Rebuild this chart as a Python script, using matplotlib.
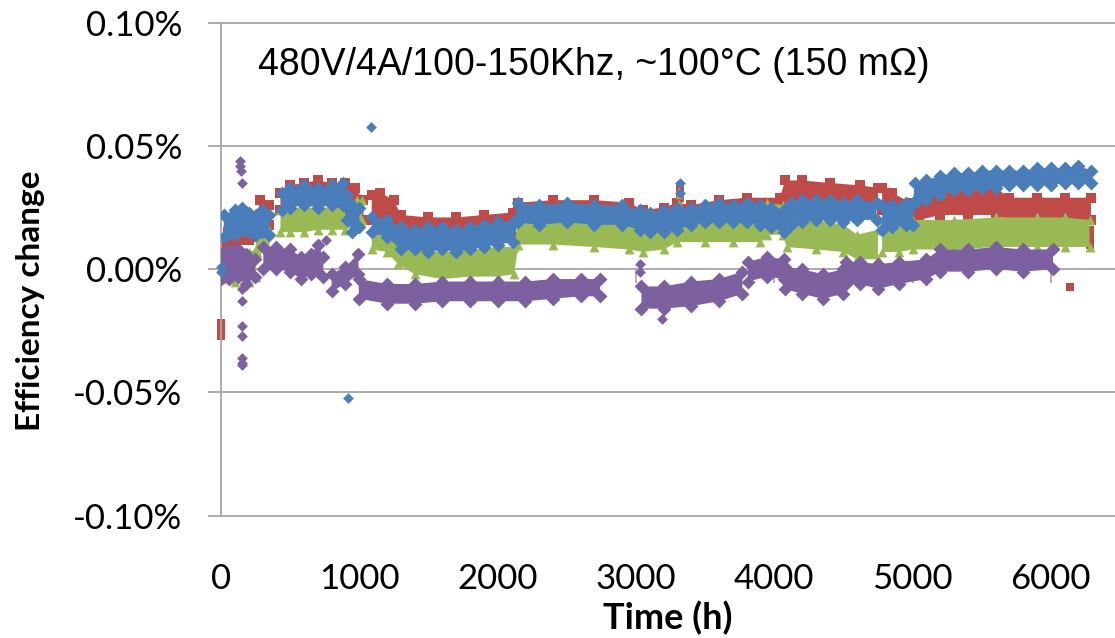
import numpy as np
import matplotlib
matplotlib.use("Agg")
import matplotlib.pyplot as plt
from matplotlib.ticker import FuncFormatter

# band data: time (h), lower / upper edge of each band (%)
# None marks a gap in the logging
blue_t = [20, 100, 150, 200, 250, 300, 350, None,
          440, 500, 600, 700, 800, 880, 910, 950, 1000, None,
          1090, 1200, 1300, 1400, 1500, 1600, 1700, 1800, 1900, 2000, 2110,
          2150, 2300, 2500, 2700, 2900, 3030, 3100, 3200, 3300, 3400, 3500,
          3600, 3700, 3800, 3900, 3980, 4070, 4120, 4200, 4300, 4400, 4500,
          4600, 4740, None,
          4780, 4850, 4950, 5000, 5020, 5100, 5200, 5300, 5400, 5500, 5600,
          5700, 5800, 5900, 6000, 6100, 6200, 6290]
blue_lo = [0.013, 0.014, 0.016, 0.015, 0.014, 0.015, 0.014, None,
           0.024, 0.025, 0.026, 0.025, 0.026, 0.026, 0.020, 0.015, 0.017, None,
           0.015, 0.013, 0.008, 0.008, 0.007, 0.008, 0.007, 0.008, 0.009, 0.010, 0.011,
           0.019, 0.018, 0.019, 0.018, 0.018, 0.016, 0.015, 0.015, 0.016, 0.018, 0.019,
           0.019, 0.019, 0.019, 0.018, 0.017, 0.015, 0.018, 0.019, 0.020, 0.020, 0.019,
           0.020, 0.020, None,
           0.016, 0.017, 0.018, 0.018, 0.027, 0.028, 0.030, 0.032, 0.032, 0.033, 0.033,
           0.034, 0.034, 0.034, 0.034, 0.035, 0.035, 0.035]
blue_hi = [0.022, 0.024, 0.025, 0.023, 0.022, 0.024, 0.022, None,
           0.031, 0.033, 0.034, 0.033, 0.034, 0.035, 0.030, 0.026, 0.025, None,
           0.021, 0.020, 0.017, 0.016, 0.017, 0.017, 0.016, 0.017, 0.018, 0.019, 0.019,
           0.027, 0.026, 0.027, 0.026, 0.026, 0.024, 0.023, 0.024, 0.025, 0.025, 0.026,
           0.027, 0.026, 0.027, 0.026, 0.025, 0.024, 0.027, 0.028, 0.028, 0.028, 0.027,
           0.028, 0.027, None,
           0.026, 0.026, 0.027, 0.027, 0.035, 0.036, 0.038, 0.039, 0.039, 0.040, 0.040,
           0.040, 0.040, 0.041, 0.041, 0.041, 0.042, 0.040]

red_t = [0, 50, 100, 150, 200, 250, 265, 280, 350, None,
         430, 500, 600, 700, 800, 900, 970, 1030, None,
         1090, 1150, 1250, 1300, 1500, 1700, 1900, 2110,
         2150, 2400, 2700, 2950, 3050, 3200, 3300, 3400, 3600, 3800, 4040,
         4080, 4200, 4400, 4620, 4750, None,
         4780, 4850, 4990, 5050, 5200, 5400, 5600, 5700, 5900, 6100, 6290]
red_lo = [0.004, 0.006, 0.010, 0.012, 0.012, 0.013, 0.013, 0.020, 0.018, None,
          0.024, 0.026, 0.027, 0.028, 0.028, 0.027, 0.024, 0.020, None,
          0.020, 0.021, 0.018, 0.013, 0.012, 0.012, 0.013, 0.013,
          0.019, 0.020, 0.020, 0.019, 0.016, 0.018, 0.020, 0.021, 0.022, 0.023, 0.023,
          0.027, 0.028, 0.027, 0.027, 0.026, None,
          0.024, 0.022, 0.017, 0.020, 0.022, 0.022, 0.022, 0.020, 0.020, 0.020, 0.020]
red_hi = [0.012, 0.015, 0.019, 0.021, 0.021, 0.021, 0.021, 0.028, 0.026, None,
          0.031, 0.034, 0.035, 0.036, 0.035, 0.035, 0.033, 0.028, None,
          0.030, 0.031, 0.028, 0.022, 0.021, 0.021, 0.022, 0.023,
          0.027, 0.028, 0.028, 0.027, 0.024, 0.025, 0.027, 0.026, 0.028, 0.029, 0.029,
          0.036, 0.036, 0.035, 0.034, 0.033, None,
          0.033, 0.031, 0.027, 0.030, 0.032, 0.033, 0.033, 0.029, 0.029, 0.029, 0.029]

green_t = [0, 100, 200, 250, 260, 350, None,
           430, 500, 600, 700, 800, 900, 980, 1020, None,
           1090, 1200, 1280, 1400, 1600, 1800, 2000, 2120,
           2150, 2400, 2700, 2950, 3050, 3200, 3300, 3500, 3700, 3900,
           3950, 4060, 4090, 4300, 4500, 4600, 4750, None,
           4780, 4900, 5000, 5300, 5600, 5900, 6100, 6280]
green_lo = [-0.004, -0.005, -0.005, -0.003, 0.007, 0.006, None,
            0.015, 0.015, 0.015, 0.016, 0.016, 0.016, 0.018, 0.020, None,
            0.008, 0.007, 0.002, -0.002, -0.004, -0.003, -0.003, -0.002,
            0.010, 0.010, 0.009, 0.008, 0.007, 0.008, 0.011, 0.011, 0.011, 0.011,
            0.014, 0.014, 0.009, 0.008, 0.007, 0.004, 0.004, None,
            0.007, 0.007, 0.008, 0.008, 0.009, 0.009, 0.009, 0.009]
green_hi = [0.004, 0.007, 0.007, 0.008, 0.015, 0.016, None,
            0.024, 0.025, 0.025, 0.025, 0.025, 0.026, 0.028, 0.028, None,
            0.016, 0.016, 0.010, 0.008, 0.007, 0.008, 0.009, 0.009,
            0.021, 0.020, 0.019, 0.018, 0.016, 0.017, 0.020, 0.021, 0.021, 0.021,
            0.027, 0.026, 0.020, 0.020, 0.018, 0.014, 0.016, None,
            0.018, 0.019, 0.020, 0.020, 0.021, 0.021, 0.021, 0.020]

purple_t = [0, 60, 120, 180, 246, None,
            306, 400, 500, 580, 650, 700, 740, None,
            800, 900, 990,
            1000, 1200, 1400, 1600, 1800, 2000, 2200, 2400, 2600, 2740, None,
            3040, 3200, 3400, 3600, 3770, None,
            3810, 3950, 4070, 4080, 4200, 4350, 4500,
            4520, 4620, 4750, 4900, 5100, 5200, 5400, 5600, 5800, 6016]
purple_lo = [-0.004, -0.004, -0.003, -0.006, -0.003, None,
             0.000, 0.000, -0.001, -0.004, -0.002, -0.001, -0.003, None,
             -0.009, -0.006, -0.002,
             -0.012, -0.014, -0.014, -0.013, -0.013, -0.013, -0.013, -0.012, -0.011, -0.011, None,
             -0.016, -0.016, -0.015, -0.013, -0.010, None,
             -0.005, -0.003, -0.004, -0.008, -0.010, -0.012, -0.010,
             -0.006, -0.006, -0.008, -0.006, -0.004, -0.001, -0.001, 0.000, -0.001, 0.000]
purple_hi = [0.006, 0.008, 0.008, 0.006, 0.004, None,
             0.009, 0.009, 0.008, 0.005, 0.006, 0.010, 0.005, None,
             -0.002, 0.001, 0.006,
             -0.004, -0.006, -0.006, -0.005, -0.005, -0.005, -0.005, -0.004, -0.004, -0.004, None,
             -0.007, -0.007, -0.005, -0.004, -0.001, None,
             0.003, 0.005, 0.004, 0.001, 0.000, -0.002, 0.000,
             0.003, 0.003, 0.002, 0.003, 0.004, 0.008, 0.008, 0.009, 0.008, 0.008]

# stray single readings
blue_out_t = [0, 0, 921, 1086, 3318, 3318]
blue_out_v = [-0.001, 0.001, -0.0524, 0.0577, 0.035, 0.031]
red_out_t = [0, 0, 0, 3320, 3320, 6280, 6280, 6280, 6140]
red_out_v = [-0.022, -0.025, -0.027, 0.029, 0.033, 0.010, 0.013, 0.016, -0.0073]
green_out_t = [3310, 3310, 3310]
green_out_v = [0.027, 0.030, 0.032]
purple_out_t = [140, 140, 145, 150, 150, 155, 150, 155, 150, 150, 155, 760, 3030, 3030, 3187]
purple_out_v = [0.0437, 0.042, 0.040, 0.035, -0.008, -0.013, -0.023, -0.027, -0.036,
                -0.038, -0.039, 0.012, -0.001, 0.002, -0.020]

y_ticks = [-0.10, -0.05, 0.00, 0.05, 0.10]
x_ticks = [0, 1000, 2000, 3000, 4000, 5000, 6000]
title = "480V/4A/100-150Khz, ~100°C (150 m\u03a9)"

GRID = "#a6a6a6"


def arr(values):
    return np.array([np.nan if v is None else v for v in values], dtype=float)


def draw_band(ax, t, lo, hi, out_t, out_v, color, marker, z):
    t, lo, hi = arr(t), arr(lo), arr(hi)
    ax.fill_between(t, lo, hi, color=color, lw=0, zorder=z)
    # markers along the edges give the ragged look of the dense scatter
    ax.scatter(t, lo, s=50, marker=marker, color=color, lw=0, zorder=z)
    ax.scatter(t, hi, s=50, marker=marker, color=color, lw=0, zorder=z)
    ax.scatter(out_t, out_v, s=30, marker=marker, color=color, lw=0,
               zorder=z, clip_on=False)


def efficiency_plot():
    fig = plt.figure(figsize=(11.15, 6.38), dpi=100)
    ax = fig.add_axes([221 / 1115, 1 - 515.7 / 638, 894 / 1115, 493 / 638])

    draw_band(ax, red_t, red_lo, red_hi, red_out_t, red_out_v, "#BE4B48", "s", 2)
    draw_band(ax, green_t, green_lo, green_hi, green_out_t, green_out_v, "#98B954", "^", 3)
    draw_band(ax, purple_t, purple_lo, purple_hi, purple_out_t, purple_out_v, "#7D60A0", "D", 4)
    draw_band(ax, blue_t, blue_lo, blue_hi, blue_out_t, blue_out_v, "#4A7EBB", "D", 5)

    ax.set_xlim(0, 6464)
    ax.set_ylim(-0.10, 0.10)

    for v in y_ticks:
        ax.axhline(v, color=GRID, lw=1.3, zorder=1, clip_on=False)
    # Excel-style category axis crossing at zero
    ax.plot(x_ticks, [0] * len(x_ticks), ls="none", marker=3, ms=10,
            mew=1.2, color=GRID, zorder=1)

    for side in ["top", "right", "bottom"]:
        ax.spines[side].set_visible(False)
    ax.spines["left"].set_color(GRID)
    ax.spines["left"].set_linewidth(1.3)

    ax.set_yticks(y_ticks)
    ax.yaxis.set_major_formatter(FuncFormatter(lambda v, p: f"{v:.2f}%"))
    ax.tick_params(axis="y", length=9.5, width=1.3, color=GRID, pad=18.5,
                   labelsize=25)
    ax.set_xticks(x_ticks)
    ax.tick_params(axis="x", length=0, pad=34, labelsize=25)
    for lab in ax.get_xticklabels() + ax.get_yticklabels():
        lab.set_family("Lato")

    ax.set_xlabel("Time (h)", family="Lato", weight="bold", fontsize=26, labelpad=4)
    fig.text(31 / 1115, 1 - 301 / 638, "Efficiency change", family="Lato",
             weight="bold", fontsize=24, rotation=90, ha="center", va="center")
    ax.text(0.0414, 0.893, title, transform=ax.transAxes, family="Liberation Sans",
            fontsize=27, ha="left", va="baseline")

    fig.savefig("out.png", dpi=100)


if __name__ == "__main__":
    efficiency_plot()
